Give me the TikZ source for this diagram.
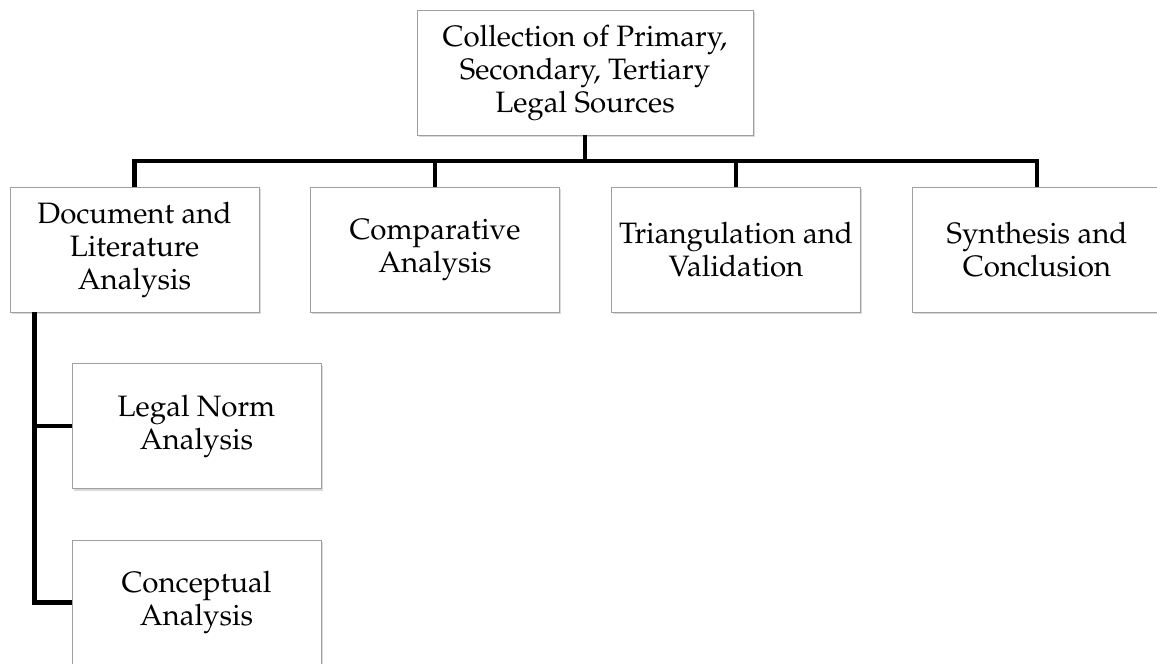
\documentclass[tikz,border=0pt]{standalone}
\usepackage[T1]{fontenc}
\usepackage{mathpazo}
\usetikzlibrary{shadows}
\begin{document}
\begin{tikzpicture}[x=1pt, y=1pt,
  box/.style={draw=gray!75, fill=white, line width=0.9pt, align=center,
    minimum width=249pt, minimum height=125pt, inner sep=2pt,
    font=\fontsize{29.5}{33}\selectfont,
    drop shadow={shadow xshift=1.5pt, shadow yshift=-2.5pt, opacity=0.3, fill=gray}},
  link/.style={line width=4.5pt}]
  \useasboundingbox (0,0) rectangle (1157,664);
  % Top box
  \node[box, minimum width=336pt] (src) at (585,591.5)
    {Collection of Primary,\\Secondary, Tertiary\\Legal Sources};
  % Second level
  \node[box] (doc) at (134.5,414.5) {Document and\\Literature\\Analysis};
  \node[box] (cmp) at (435,414.5) {Comparative\\Analysis};
  \node[box] (tri) at (736,414.5) {Triangulation and\\Validation};
  \node[box] (syn) at (1037,414.5) {Synthesis and\\Conclusion};
  % Sub-boxes of the document analysis
  \node[box] (norm) at (196.5,238) {Legal Norm\\Analysis};
  \node[box] (conc) at (196.5,61.5) {Conceptual\\Analysis};
  % Connectors
  \coordinate (bar) at (585,503);
  \draw[link] (src.south) -- (bar);
  \foreach \n in {doc,cmp,tri,syn}
    \draw[link] (\n.north) |- (bar);
  \coordinate (stem) at ([xshift=25pt]doc.south west);
  \draw[link] (stem) |- (norm.west);
  \draw[link] (stem) |- (conc.west);
\end{tikzpicture}
\end{document}
